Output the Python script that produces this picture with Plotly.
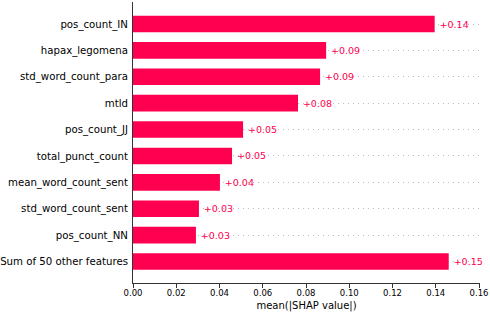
import plotly.graph_objects as go

features = ["pos_count_IN", "hapax_legomena", "std_word_count_para", "mtld",
            "pos_count_JJ", "total_punct_count", "mean_word_count_sent",
            "std_word_count_sent", "pos_count_NN", "Sum of 50 other features"]
values = [0.1395, 0.0893, 0.0865, 0.0763, 0.0509, 0.0458, 0.0402, 0.0305, 0.0291, 0.146]
labels = ["+0.14", "+0.09", "+0.09", "+0.08", "+0.05", "+0.05", "+0.04", "+0.03", "+0.03", "+0.15"]
xticks = [0.00, 0.02, 0.04, 0.06, 0.08, 0.10, 0.12, 0.14, 0.16]

RED = "#ff0051"
FONT = "DejaVu Sans"

fig = go.Figure()
fig.add_trace(go.Bar(
    x=values, y=features, orientation="h",
    marker=dict(color=RED, line=dict(width=0)),
    width=0.63,
    text=labels, texttemplate="\u2009%{text}",
    textposition="outside", cliponaxis=False,
    textfont=dict(color=RED, size=9.5, family=FONT),
    hoverinfo="skip",
))

fig.update_layout(
    width=490, height=312,
    margin=dict(l=133, r=10, t=2, b=29),
    plot_bgcolor="white", paper_bgcolor="white",
    showlegend=False,
    uniformtext=dict(mode=False),
    font=dict(family=FONT, color="black"),
)
fig.update_xaxes(
    range=[0, 0.16046], tickvals=xticks, ticktext=[f"{v:.2f}" for v in xticks],
    showgrid=False, zeroline=False,
    showline=True, linecolor="#333333", linewidth=1,
    ticks="outside", ticklen=3.5, tickwidth=0.8, tickcolor="#333333",
    ticklabelstandoff=-2,
    tickfont=dict(size=8.5, family=FONT, color="black"),
    title=dict(text="mean(|SHAP value|)", font=dict(size=10, family=FONT, color="black"), standoff=5),
    automargin=False,
)
fig.update_yaxes(
    categoryorder="array", categoryarray=features, autorange=False,
    range=[len(features) - 1 + 0.815, -0.834],
    showgrid=True, gridcolor="#bbbbbb", gridwidth=0.6, griddash="1px,4px",
    zeroline=False,
    showline=True, linecolor="#333333", linewidth=1,
    ticks="", ticklabelstandoff=2,
    tickfont=dict(size=10.2, family=FONT, color="black"),
    automargin=False,
)

fig.write_html("out.html", config={"displayModeBar": False},
               post_script="document.body.style.margin='0';")
